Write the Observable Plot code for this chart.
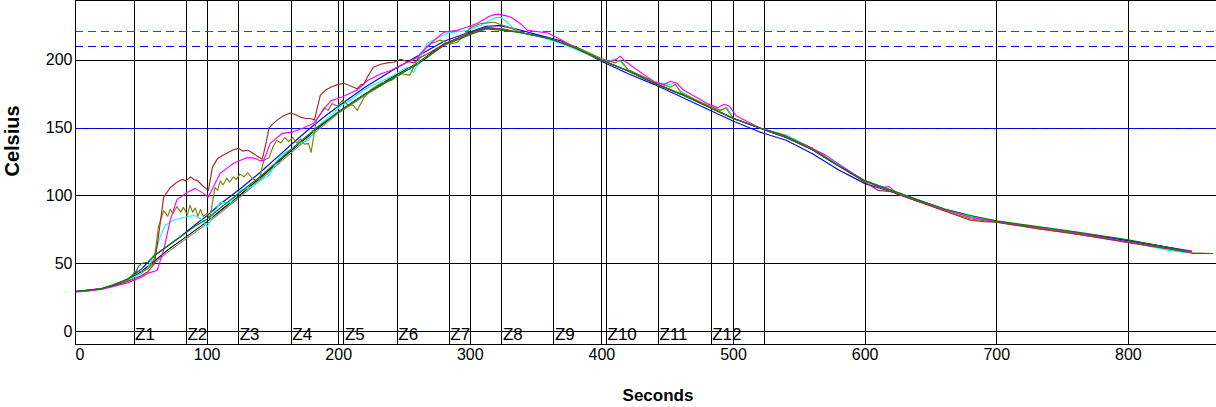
<!DOCTYPE html>
<html>
<head>
<meta charset="utf-8">
<script src="https://cdn.jsdelivr.net/npm/d3@7"></script>
<script src="https://cdn.jsdelivr.net/npm/@observablehq/plot@0.6"></script>
<style>
  html, body { margin: 0; padding: 0; background: #fff; }
</style>
</head>
<body>
<div id="chart"></div>
<script>
// ---- tick labels / reference values ----
const xTicks = [100, 200, 300, 400, 500, 600, 700, 800];
const yTicks = [0, 50, 100, 150, 200];
const zoneTimes = [44.5, 84.3, 124, 164, 204, 244.5, 284, 324, 363.5, 403.5, 443, 483, 523.5];
const zoneNames = ["Z1","Z2","Z3","Z4","Z5","Z6","Z7","Z8","Z9","Z10","Z11","Z12",""];
const limitRed = 221;
const limitBlue = 210;
const soakLine = 150;

// ---- series (time in s, temperature in °C) ----
const brownT = [0,20,40,45,50,55,60,63,67,72,77,81,84,87.5,90,93,96,99,101,104,108,112,116,120,124,127,131,134,137,142,145,147,150,153.5,158,163,167,171,175,178.6,181.6,186,190,194,199,204,209,214,217,219,222,226.5,232,237,242,247,252,257,262,270,280,300,312,322,340,360,380,400,420,440,460,480,500,520,540,560,580,600,610,620,640,660,680,690,700,730,760,800,830,850,864];
const brownV = [29.5,31.5,37,39,41,44,50,70,99,106,110,112,111,114,112,111,108,105.5,104,121,127.6,130,132,134,135,133,133.6,132,130,127,140,150,153,156,159,161,160,158,157,157,156,174,178,180,182,183,181,179,182,182,188,195,197,198,198.5,200.7,199,198,202,206,212,220,224,223,220,216,209,200,192,183,175,166,157,150,144,134,122,110,104,103,96,89,82,81,80.5,76,72,65.5,61,57.5,57.5];

const magentaT = [0,20,40,50,55,62,67,72,77,85,91,97,101,106,110,116,120,125,130,135,140,143,148,157,165,173,181,188,194,202,214,222,232,240,247,260,268,280,290,295,305,312,316,321,326,331,338,343.5,359,374,384,400,405,410,414,418,425,440,447,452,457,462,480,488,493,497,502,520,540,555,570,590,600,612,618,625,640,680,700,730,760,800,830,848];
const magentaV = [29,31,36,40,43,45,60,82,97,102.6,105.5,102,99,109,116.6,121,124,126,128,128,126,126,138.7,146,147,150,153.5,163,170,172.7,178,185,190,192.6,196,202,211,220.7,222,223.6,227,231,233,234,233,231.7,227,222,220,212.5,207,200,199,200,203,199,194,184,182,184.5,183,178,168,165,167.5,166,159,150,143,137,130,117,111,106,107,101,96,84,81,77,73,66,61,59];

const oliveT = [0,20,40,45,50,55,60,63,67,70,72,74,77,80,82,85,87,89,91,93,95,97,100,102,106,108,110,112,115,117,120,122,125,128,131,134,137,140,143,147,150,153,156,159,162,165,168,171,174,177,179,183,186,189,192,195,199,203,207,211,214,219,224,232,240,247,254,262,270,277,285,290,300,308,318,330,340,360,380,400,410,414,420,440,452,456,460,480,490,494,500,520,540,560,580,600,620,640,660,680,700,730,760,800,830,848,864];
const oliveV = [29.5,31.5,38,44,44,46,54,77,89,85,90,87,92,88,91.5,86,93,88,91,85,90,85,87,83,106,104,111,108,113,110,114,112,116,114,117,113,111.4,113,126,128,136,141,139,143,140,143,139,142,138,138.7,132,155.7,160,165,163,168,166,170.5,167,166.8,163,172,178,183,185,190,189,205,212,214.8,212,213,224,227,228,224,220,216,210,201,198,200,193,184,180,182,176,167,163,165,157,150,144,135,122,111,103,96,89,83,80.5,76,72,66,61,58,57.5];

const cyanT = [0,20,40,50,55,62,64,68,74,82,90,97,100,106,110,118,125,131,136,141,147,150,156,165,170,177,183,190,196,201,209,219,229,240,247,252,257,267,283,298,308,318,323,328,336,350,370,400,405,410,414,420,440,450,455,460,480,490,495,500,520,540,560,580,600,620,640,660,680,700,730,760,800,830,843];
const cyanV = [29.5,31.5,38,43,47,62,69,78,82,84,85.6,82,77,89,95,95,104,105.5,108,111.4,115,120,130,135,138.7,141,150.5,156,161,166,170.5,178,183,188,192,195,191,212.5,220,222,225.8,231,231.7,228,220.7,218,212,200,199,201,199,193,184,182,183,177,166,163,165,157,150,145,135,123,111,104,97,90,85,81,77,72,66,60,58];

const blueT = [0,20,40,50,60,70,80,90,100,110,125,140,155,170,181,190,201,220,240,260,280,300,312,322,335,350,370,400,420,440,460,480,500,520,540,560,580,600,620,640,660,680,700,730,760,800,830,848];
const blueV = [29.5,31.5,38.5,46,56,63,70,78,85.5,94,105,117,130,143,152,159,167,180,192,203,214,221,225,225.5,223,219,214,199,190,182,173,164,155,147,141,131,119,109,103,96,90,85,81,77,73,67,62,59];

const greenT = [0,20,30,40,45,48,50,55,60,70,80,90,100,110,123,140,160,183,200,220,240,260,280,300,312,325,340,360,380,400,420,440,460,480,500,520,540,560,580,600,620,640,660,680,700,730,760,800,830,845];
const greenV = [29.5,31.8,34.5,39,42,48,50,51,56,63,70,77,83,91,101,114,131,150,162,175,186,197,211,219,223,222,220,216,209,200,192,183,175,166,157,150,143,134,122,111,104,97,90.5,85.5,81.5,77.5,73.5,67.5,62,59];

const blackT = [0,10,20,30,40,50,60,70,80,90,100,110,123,140,160,183,200,220,240,260,280,300,312,325,340,360,380,400,420,440,460,480,500,520,540,560,580,600,620,640,660,680,700,730,760,800,830,848];
const blackV = [29.5,30,31.5,34,38,44,52,60,67,74,81,89,99,113,130,149,162,175,187,198,212,220,224,223,220,216,209,200,192,183,175,166,157,150,143,134,122,111,104,97,90,85,81,77,73,67,62,59];

const grayT = [0,20,40,50,60,70,80,90,100,110,123,140,160,183,200,220,240,260,280,300,312,325,340,360,380,400,420,440,460,480,500,520,540,560,580,600,620,640,660,680,700,730,760,800,830,848];
const grayV = [29.5,31.5,38,43,50.5,58.5,65.5,72.5,79.5,87.5,97.5,111.5,128.5,147.5,161,174,186,197.5,211,219,223.5,223,220,216,209,200,192,183,175,166,157,150,143,134,122,111,104,97,90,85,81,77,73,67,62,59.5];

const seriesNames  = ["black", "gray", "blue", "cyan", "olive", "magenta", "brown", "green"];
const seriesColors = ["#000000", "#3f7373", "#0000ff", "#00e5ee", "#857a3a", "#ff00ff", "#8b2010", "#00e000"];
const seriesT = [blackT, grayT, blueT, cyanT, oliveT, magentaT, brownT, greenT];
const seriesV = [blackV, grayV, blueV, cyanV, oliveV, magentaV, brownV, greenV];

const rows = [];
seriesNames.forEach((name, i) => {
  seriesT[i].forEach((t, j) => rows.push({series: name, t, v: seriesV[i][j]}));
});
const zones = zoneTimes.map((t, i) => ({t, name: zoneNames[i]}));

const font = "'Liberation Sans', Arial, Helvetica, sans-serif";
const crisp = {shapeRendering: "crispEdges"};

const chart = Plot.plot({
  width: 1216,
  height: 407,
  marginLeft: 75,
  marginRight: 0,
  marginTop: 0,
  marginBottom: 63,
  style: {fontFamily: font, fontSize: "16px", background: "#fff", color: "#000"},
  x: {domain: [0, 867]},
  y: {domain: [-9.6, 244]},
  color: {domain: seriesNames, range: seriesColors},
  marks: [
    Plot.ruleX(xTicks, {stroke: "#000", strokeWidth: 1, ...crisp}),
    Plot.ruleX(zones, {x: "t", stroke: "#000", strokeWidth: 1, ...crisp}),
    Plot.ruleY(yTicks, {stroke: "#000", strokeWidth: 1, ...crisp}),
    Plot.ruleY([soakLine], {stroke: "#0000ff", strokeWidth: 1, strokeDasharray: "10,2", ...crisp}),
    Plot.ruleY([limitRed], {stroke: "#ff0000", strokeWidth: 1, strokeDasharray: "8,5", ...crisp}),
    Plot.ruleY([limitBlue], {stroke: "#0000ff", strokeWidth: 1, strokeDasharray: "8,5", ...crisp}),
    Plot.line(rows, {x: "t", y: "v", z: "series", stroke: "series", strokeWidth: 1.15}),
    Plot.text(zones, {x: "t", text: "name", frameAnchor: "bottom", textAnchor: "start", lineAnchor: "middle", dx: 1, dy: -10, fontSize: 17, fill: "#000"}),
    Plot.frame({stroke: "#000", strokeWidth: 1, ...crisp}),
    Plot.axisX(xTicks, {tickSize: 0, tickPadding: 4, label: null, fontSize: 16}),
    Plot.text([0], {x: d => d, frameAnchor: "bottom", text: d => String(d), textAnchor: "start", lineAnchor: "top", dy: 4, fontSize: 16, fill: "#000"}),
    Plot.axisY(yTicks, {tickSize: 0, tickPadding: 3, label: null, fontSize: 16}),
    Plot.text(["Celsius"], {text: d => d, frameAnchor: "left", rotate: -90, dx: -63, dy: 4, fontSize: 20, fontWeight: "bold", fill: "#000"}),
    Plot.text(["Seconds"], {text: d => d, frameAnchor: "bottom", dx: 12, dy: 56, fontSize: 17, fontWeight: "bold", fill: "#000"})
  ]
});
document.getElementById("chart").append(chart);
</script>
</body>
</html>
